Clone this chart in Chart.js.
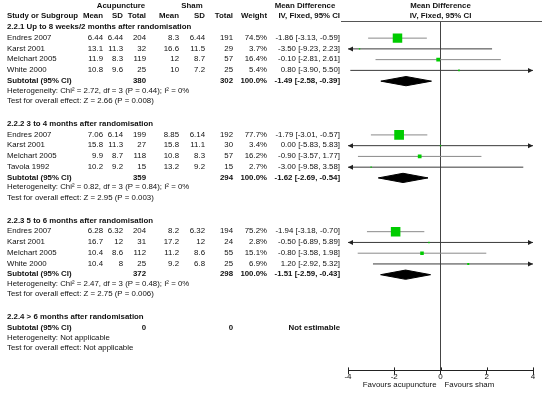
<!DOCTYPE html>
<html><head><meta charset="utf-8">
<script src="https://cdn.jsdelivr.net/npm/chart.js@4.4.0/dist/chart.umd.min.js"></script>
<style>html,body{margin:0;padding:0;background:#fff;}canvas{display:block;}</style>
</head><body>
<canvas id="c" width="542" height="395"></canvas>
<script>
// ---------- DATA ----------
const groupTitles = ['2.2.1 Up to 8 weeks/2 months after randomisation','2.2.2 3 to 4 months after randomisation','2.2.3 5 to 6 months after randomisation','2.2.4 > 6 months after randomisation'];
const studyNames = ['Endres 2007','Karst 2001','Melchart 2005','White 2000','Endres 2007','Karst 2001','Melchart 2005','Tavola 1992','Endres 2007','Karst 2001','Melchart 2005','White 2000'];
const studyGroup = [0,0,0,0,1,1,1,1,2,2,2,2];
const acupMean  = [6.44,13.1,11.9,10.8, 7.06,15.8,9.9,10.2, 6.28,16.7,10.4,10.4];
const acupSD    = [6.44,11.3,8.3,9.6, 6.14,11.3,8.7,9.2, 6.32,12,8.6,8];
const acupTotal = [204,32,119,25, 199,27,118,15, 204,31,112,25];
const shamMean  = [8.3,16.6,12,10, 8.85,15.8,10.8,13.2, 8.2,17.2,11.2,9.2];
const shamSD    = [6.44,11.5,8.7,7.2, 6.14,11.1,8.3,9.2, 6.32,12,8.6,6.8];
const shamTotal = [191,29,57,25, 192,30,57,15, 194,24,55,25];
const weightPct = [74.5,3.7,16.4,5.4, 77.7,3.4,16.2,2.7, 75.2,2.8,15.1,6.9];
const meanDiff  = [-1.86,-3.50,-0.10,0.80, -1.79,0.00,-0.90,-3.00, -1.94,-0.50,-0.80,1.20];
const ciLow     = [-3.13,-9.23,-2.81,-3.90, -3.01,-5.83,-3.57,-9.58, -3.18,-6.89,-3.58,-2.92];
const ciHigh    = [-0.59,2.23,2.61,5.50, -0.57,5.83,1.77,3.58, -0.70,5.89,1.98,5.32];
const subAcupTotal = [380,359,372,0];
const subShamTotal = [302,294,298,0];
const subMD   = [-1.49,-1.62,-1.51,null];
const subLow  = [-2.58,-2.69,-2.59,null];
const subHigh = [-0.39,-0.54,-0.43,null];
const hetChi2 = [2.72,0.82,2.47,null];
const hetDf   = [3,3,3,null];
const hetP    = [0.44,0.84,0.48,null];
const hetI2   = [0,0,0,null];
const testZ   = [2.66,2.95,2.75,null];
const testP   = [0.008,0.003,0.006,null];
const xTicks  = [-4,-2,0,2,4];
const favourLabels = ['Favours acupuncture','Favours sham'];

// ---------- ROW LAYOUT ----------
const rows = [];
let r = 0;
groupTitles.forEach((t,g)=>{
  rows.push({kind:'title',g,row:r++});
  studyNames.forEach((n,i)=>{ if(studyGroup[i]===g) rows.push({kind:'study',i,row:r++}); });
  rows.push({kind:'sub',g,row:r++});
  rows.push({kind:'het',g,row:r++});
  rows.push({kind:'test',g,row:r++});
  r++;
});
const XMIN = -4, XMAX = 4;
const fmt2 = v => v.toFixed(2);
const ciText = (m,l,h) => fmt2(m)+' ['+fmt2(l)+', '+fmt2(h)+']';

// ---------- DATASETS ----------
const datasets = [];
rows.filter(o=>o.kind==='study').forEach(o=>{
  const i=o.i; const arrow = ciLow[i]<XMIN || ciHigh[i]>XMAX;
  datasets.push({type:'line',data:[{x:ciLow[i],y:o.row},{x:ciHigh[i],y:o.row}],
    borderColor: arrow?'#3a3a3a':'#8a8a8a',borderWidth:1,pointRadius:0,fill:false,order:3});
});
const sq = rows.filter(o=>o.kind==='study');
datasets.push({type:'scatter',data:sq.map(o=>({x:meanDiff[o.i],y:o.row})),
  pointStyle:'rect',backgroundColor:'#00cc00',borderWidth:0,
  pointRadius: sq.map(o=>Math.max(1.4,1.25*Math.sqrt(weightPct[o.i])-1.3)/Math.SQRT2),order:1});
rows.filter(o=>o.kind==='sub' && subMD[o.g]!==null).forEach(o=>{
  const g=o.g, h=0.43;
  datasets.push({type:'line',data:[{x:subLow[g],y:o.row},{x:subMD[g],y:o.row-h},{x:subHigh[g],y:o.row},{x:subMD[g],y:o.row+h},{x:subLow[g],y:o.row}],
    borderColor:'#000',backgroundColor:'#000',borderWidth:1,pointRadius:0,fill:'shape',tension:0,order:2});
});

// ---------- TABLE PLUGIN ----------
const FONT = '"Liberation Sans", Arial, sans-serif';
const FS = 7.85;
const COL = {name:7,aMean:103,aSD:123,aN:146,sMean:179,sSD:205,sN:233,w:267,ci:340};
const tablePlugin = {
  id:'forestTable',
  afterDraw(chart){
    const ctx = chart.ctx, ys = chart.scales.y, xs = chart.scales.x, ca = chart.chartArea;
    ctx.save();
    ctx.fillStyle = '#111'; ctx.textBaseline='middle';
    const T = (s,x,y,al,b)=>{ctx.font=(b?'bold ':'')+FS+'px '+FONT;ctx.textAlign=al;ctx.fillText(s,x,y);};
    // headers
    T('Acupuncture',121,6,'center',true);
    T('Sham',192,6,'center',true);
    T('Mean Difference',305,6,'center',true);
    T('Mean Difference',xs.getPixelForValue(0),6,'center',true);
    T('Study or Subgroup',COL.name,16,'left',true);
    T('Mean',COL.aMean,16,'right',true); T('SD',COL.aSD,16,'right',true); T('Total',COL.aN,16,'right',true);
    T('Mean',COL.sMean,16,'right',true); T('SD',COL.sSD,16,'right',true); T('Total',COL.sN,16,'right',true);
    T('Weight',COL.w,16,'right',true); T('IV, Fixed, 95% CI',COL.ci,16,'right',true);
    T('IV, Fixed, 95% CI',xs.getPixelForValue(0),16,'center',true);
    // header rule
    ctx.strokeStyle='#555'; ctx.lineWidth=1;
    ctx.beginPath(); ctx.moveTo(341,Math.round(ca.top)-0.5); ctx.lineTo(542,Math.round(ca.top)-0.5); ctx.stroke();
    rows.forEach(o=>{
      const y = ys.getPixelForValue(o.row) - 0.5;
      if(o.kind==='title'){ T(groupTitles[o.g],COL.name,y,'left',true); }
      else if(o.kind==='study'){
        const i=o.i;
        T(studyNames[i],COL.name,y,'left',false);
        T(String(acupMean[i]),COL.aMean,y,'right',false);
        T(String(acupSD[i]),COL.aSD,y,'right',false);
        T(String(acupTotal[i]),COL.aN,y,'right',false);
        T(String(shamMean[i]),COL.sMean,y,'right',false);
        T(String(shamSD[i]),COL.sSD,y,'right',false);
        T(String(shamTotal[i]),COL.sN,y,'right',false);
        T(weightPct[i].toFixed(1)+'%',COL.w,y,'right',false);
        T(ciText(meanDiff[i],ciLow[i],ciHigh[i]),COL.ci,y,'right',false);
      } else if(o.kind==='sub'){
        const g=o.g;
        T('Subtotal (95% CI)',COL.name,y,'left',true);
        T(String(subAcupTotal[g]),COL.aN,y,'right',true);
        T(String(subShamTotal[g]),COL.sN,y,'right',true);
        if(subMD[g]!==null){
          T('100.0%',COL.w,y,'right',true);
          T(ciText(subMD[g],subLow[g],subHigh[g]),COL.ci,y,'right',true);
        } else T('Not estimable',COL.ci,y,'right',true);
      } else if(o.kind==='het'){
        const g=o.g;
        T(hetChi2[g]===null?'Heterogeneity: Not applicable':
          'Heterogeneity: Chi\u00b2 = '+hetChi2[g].toFixed(2)+', df = '+hetDf[g]+' (P = '+hetP[g]+'); I\u00b2 = '+hetI2[g]+'%',COL.name,y-1,'left',false);
      } else if(o.kind==='test'){
        const g=o.g;
        T(testZ[g]===null?'Test for overall effect: Not applicable':
          'Test for overall effect: Z = '+testZ[g].toFixed(2)+' (P = '+testP[g]+')',COL.name,y-1.5,'left',false);
      }
    });
    // tick marks above axis
    ctx.strokeStyle='#222';
    xTicks.forEach(v=>{const x=Math.round(xs.getPixelForValue(v))+0.5; ctx.beginPath(); ctx.moveTo(x,ca.bottom-3); ctx.lineTo(x,ca.bottom); ctx.stroke();});
    // favours labels
    const x0 = xs.getPixelForValue(0);
    T(favourLabels[0],x0-4,385,'right',false);
    T(favourLabels[1],x0+4,385,'left',false);
    // arrow heads
    ctx.fillStyle='#222';
    rows.filter(o=>o.kind==='study').forEach(o=>{
      const y = ys.getPixelForValue(o.row);
      if(ciLow[o.i]<XMIN){const x=xs.getPixelForValue(XMIN); ctx.beginPath(); ctx.moveTo(x,y); ctx.lineTo(x+5,y-2.5); ctx.lineTo(x+5,y+2.5); ctx.closePath(); ctx.fill();}
      if(ciHigh[o.i]>XMAX){const x=xs.getPixelForValue(XMAX); ctx.beginPath(); ctx.moveTo(x,y); ctx.lineTo(x-5,y-2.5); ctx.lineTo(x-5,y+2.5); ctx.closePath(); ctx.fill();}
    });
    ctx.restore();
  }
};

new Chart(document.getElementById('c'),{
  type:'scatter',
  data:{datasets},
  options:{
    responsive:false,animation:false,devicePixelRatio:1,
    layout:{padding:{left:348,right:9,top:22,bottom:15}},
    plugins:{legend:{display:false},tooltip:{enabled:false}},
    scales:{
      x:{type:'linear',min:XMIN,max:XMAX,
        afterBuildTicks:(s)=>{s.ticks=xTicks.map(v=>({value:v}));},
        ticks:{font:{family:FONT,size:8},color:'#111',padding:-2,maxRotation:0},
        grid:{color:(c)=>(c.tick && c.tick.value===0)?'#444':'rgba(0,0,0,0)',tickColor:'#222',tickLength:4},
        border:{display:true,color:'#222',width:1}},
      y:{type:'linear',display:false,reverse:true,min:-0.5,max:31.9}
    }
  },
  plugins:[tablePlugin]
});
</script>
</body></html>
